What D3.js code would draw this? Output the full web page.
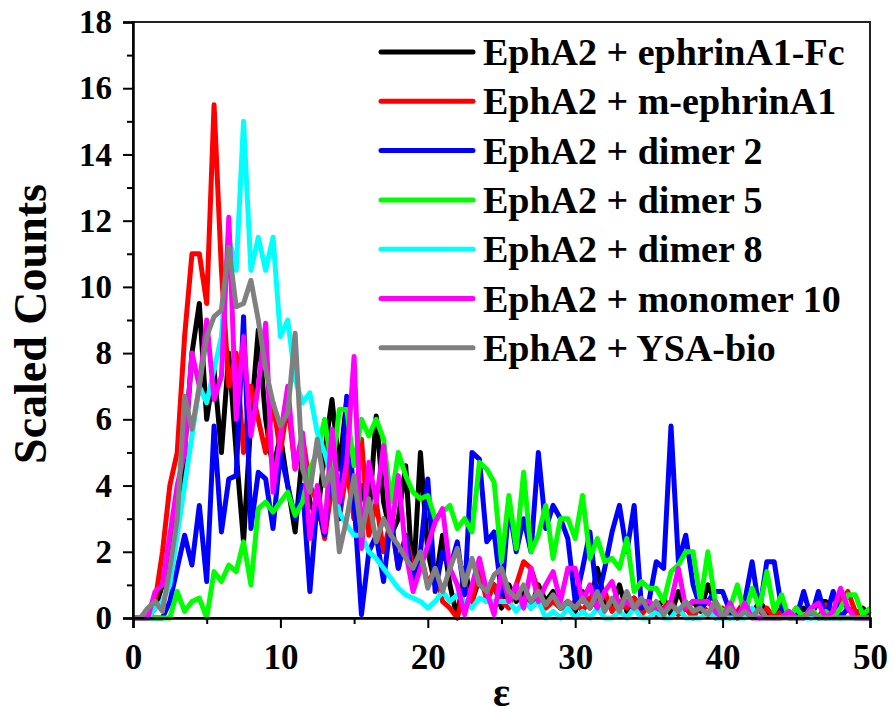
<!DOCTYPE html>
<html>
<head>
<meta charset="utf-8">
<script src="https://cdn.jsdelivr.net/npm/d3@7"></script>
<style>
  body { margin: 0; background: #fff; }
  svg text { font-family: "Liberation Serif", "Times New Roman", serif; font-weight: bold; }
</style>
</head>
<body>
<div id="chart"></div>
<script>
// bin centres, step 0.5 on epsilon
const eps = d3.range(0, 50.001, 0.5);

const seriesNames = [
    "EphA2 + ephrinA1-Fc",
    "EphA2 + m-ephrinA1",
    "EphA2 + dimer 2",
    "EphA2 + dimer 5",
    "EphA2 + dimer 8",
    "EphA2 + monomer 10",
    "EphA2 + YSA-bio"
];
const seriesColors = ["#000000", "#ff0000", "#0000ff", "#00ff00", "#00ffff", "#ff00ff", "#808080"];

const ephrinFc = [
    0,0,0,0.3,1,2,3,5,8,9.5,
    6,7.5,5,8,5,2.3,6,8.7,6,4.5,
    5.5,4,2.6,5,3.5,3,5,6.6,4.5,6.6,
    3,4,3,6.1,3.5,2.5,3,4.6,1,5,
    2,1,2.5,1,0,1.5,0.5,1.2,0.8,1,
    0.3,1,0.5,0.8,0.3,1,0.5,0.8,0.3,0.5,
    0.2,0.8,0.3,1.5,0.5,0.3,1,0.2,0.6,0.3,
    0.5,0.2,0.6,0.1,0.8,0.3,0.5,0.2,1,0.5,
    0.1,0.3,0,0.4,0.1,0.5,0.2,0,0.3,0.1,
    0,0.3,0.1,0.5,0.5,0.2,0.6,0.3,0.1,0.3,
    0.1
];
const mEphrin = [
    0,0,0,0.5,2,4,5,8.5,11,11,
    9.5,15.5,10.5,7,8,5,7,6,5,6.5,
    5,6.5,4.5,5.5,4,3.5,2.4,4,3,4.5,
    3,5.4,2.5,3.5,2,3,1.5,2.5,1.5,2,
    1,1.5,0.5,0.3,0,1,0.5,1.5,0.5,1,
    0.5,0.3,1,1.7,1.5,0.8,0.3,0.5,0.3,0.3,
    0.5,0.2,0.6,0.3,0.8,0.2,0.5,0.3,0.6,0.1,
    0.4,0.1,0.3,0.5,0.1,0.3,0,0.4,0.2,0,
    0.3,0,0.2,0.5,0.1,0,0.3,0,0.2,0,
    0.3,0,0.2,0,0.4,0.2,0.5,0.8,0.2,0,
    0
];
const dimer2 = [
    0,0,0,0,0,0.5,1.5,2.5,1.6,3.4,
    1.1,5.8,2.6,4.2,4.3,9.1,2.7,4.4,4.2,2.7,
    5,4,3,4,0.8,3.5,2.5,5,3,6.7,
    3.5,0.1,2,2.5,1.1,3,1.5,2.5,1,2,
    4.2,0.8,2,1.5,2.3,0.7,5,4.8,2.3,2.6,
    0.7,3.4,2,3,2,5,2.7,3.4,3,2.4,
    0.5,1.5,2.6,0.5,1.5,2.6,3.4,2,3.4,0.3,
    0.5,1.7,1.5,5.8,1.7,2.5,1,0.3,0.5,0.8,
    0.8,0.2,0,0.5,1.7,0.2,1.7,1.7,0.3,0,
    0,0.8,0,0.8,0,0.8,0,0.3,0,0,
    0
];
const dimer5 = [
    0,0,0,0,0,0,0.8,0.2,0.5,0.6,
    0,1.4,1.1,1.6,1.4,2.3,1,3.3,3.5,3.2,
    3.5,3.8,3.1,3.5,4.5,5,6,4.5,6.3,6.3,
    4.6,6,5.5,6,5.4,3.5,5,4.3,3.8,3.6,
    3.7,3,3.2,3.4,2.7,3,2.6,4.7,4.5,4.1,
    1.7,3.7,2.1,4.4,2,2.5,3.4,1.8,3,3,
    2.4,3.7,1.8,2.4,1.7,1.8,1.5,2.4,0.8,1.1,
    0.9,0.9,0.5,1.4,1.6,2,2,0.5,2,0.5,
    0.2,0.3,1,0.1,0.9,0.3,1.4,0.2,0.7,0,
    0.3,0,0.3,0,0.2,0,0.3,0.7,0.7,0.1,
    0.3
];
const dimer8 = [
    0,0,0,0.3,0.5,1,2.5,4,5.5,7,
    6.5,7.5,8.5,11.5,10.5,15,10.5,11.5,10.5,11.5,
    8.5,9,7.2,6.5,6.8,5.6,5,4.2,3.2,2.8,
    2.5,2.5,2,1.8,1.5,1.2,0.9,0.7,0.6,0.5,
    0.3,0.5,0.8,0.5,0.7,0.5,0.3,0.6,0.5,0.5,
    0.5,0.5,0.2,0.5,0.3,0.5,0,0.2,0,0.3,
    0,0.2,0,0.3,0,0,0.2,0,0.3,0,
    0,0.2,0,0,0.3,0,0,0,0.2,0,
    0,0,0,0,0.3,0,0,0,0,0.2,
    0,0,0,0,0,0,0,0,0,0,
    0
];
const monomer10 = [
    0,0,0,0.8,1,2.5,4,5,8,7,
    9,6.6,7.3,12.1,6,8.5,5.5,7,8.9,3.8,
    5.5,7,4.5,5.6,2.4,4,2.6,5.7,3.5,4.7,
    7.9,2.1,4.7,3.5,5.2,2.5,4.3,2,0.8,1.5,
    2.2,2.9,3.3,1.5,1,0.1,1,1.8,0.8,0.1,
    1.4,0.5,1,0.3,1.5,0.5,1,1.4,0.5,1.5,
    1.5,0.5,1,0.3,0.8,1.1,0.3,0.5,0.3,0.5,
    0.5,0.3,0.2,0.5,1.5,0.3,0.5,0.5,0.5,0.2,
    0,0.45,0,0.45,0,0,0,0,0,0.2,
    0,0,0.3,0.45,0,0.2,0.9,0.3,0,0,
    0
];
const ysaBio = [
    0,0,0.3,0.5,0.2,1.5,3,6.7,5.7,7,
    8.5,9.1,9.3,11.2,9.4,9.5,10.2,9,7.5,6.5,
    5.8,6.2,8.6,4.5,3.8,5.4,4,4.5,2,3,
    4.3,2.5,3.6,2.3,3,2.5,2.2,1.8,1.5,2,
    0.9,1.5,0.8,1.5,2.1,1,1.8,1,0.8,1.3,
    1.5,0.8,0.6,1,0.5,0.8,0.4,0.7,0.3,0.5,
    0.3,0.6,0.3,0.8,0.2,0.6,0.2,0.8,0.3,0.6,
    0.2,0.5,0.1,0.4,0.2,0.5,0.2,0.3,0.1,0.5,
    0,0.3,0,0.2,0,0.3,0,0,0,0,
    0,0,0.2,0,0,0,0,0,0,0,
    0
];

const allSeries = [ephrinFc, mEphrin, dimer2, dimer5, dimer8, monomer10, ysaBio];

const W = 895, H = 721;
const plot = { left: 133, right: 870, top: 22, bottom: 618 };

const svg = d3.select("#chart")
    .append("svg")
    .attr("width", W)
    .attr("height", H);

const x = d3.scaleLinear().domain([0, 50]).range([plot.left, plot.right]);
const y = d3.scaleLinear().domain([0, 18]).range([plot.bottom, plot.top]);

// data lines
const line = d3.line()
    .x((d, i) => x(eps[i]))
    .y(d => y(d));

allSeries.forEach((vals, k) => {
    svg.append("path")
        .datum(vals)
        .attr("fill", "none")
        .attr("stroke", seriesColors[k])
        .attr("stroke-width", 5)
        .attr("stroke-linejoin", "round")
        .attr("d", line);
});

// frame
svg.append("rect")
    .attr("x", plot.left)
    .attr("y", plot.top)
    .attr("width", plot.right - plot.left)
    .attr("height", plot.bottom - plot.top)
    .attr("fill", "none")
    .attr("stroke", "#222")
    .attr("stroke-width", 2);

// minor ticks
svg.append("g")
    .attr("transform", `translate(0,${plot.bottom})`)
    .call(d3.axisBottom(x).tickValues(d3.range(5, 50, 10)).tickSize(6).tickFormat(""))
    .call(g => g.select(".domain").remove())
    .selectAll("line").attr("stroke-width", 2);

svg.append("g")
    .attr("transform", `translate(${plot.left},0)`)
    .call(d3.axisLeft(y).tickValues(d3.range(1, 18, 2)).tickSize(6).tickFormat(""))
    .call(g => g.select(".domain").remove())
    .selectAll("line").attr("stroke-width", 2);

// major ticks + labels
const xAxis = svg.append("g")
    .attr("transform", `translate(0,${plot.bottom})`)
    .call(d3.axisBottom(x).tickValues(d3.range(0, 51, 10)).tickSize(10).tickPadding(16));
xAxis.select(".domain").attr("stroke-width", 2.5);
xAxis.selectAll("line").attr("stroke-width", 2);
xAxis.selectAll("text").style("font-size", "35px").attr("fill", "#000");

const yAxis = svg.append("g")
    .attr("transform", `translate(${plot.left},0)`)
    .call(d3.axisLeft(y).tickValues(d3.range(0, 19, 2)).tickSize(10).tickPadding(11));
yAxis.select(".domain").attr("stroke-width", 2.5);
yAxis.selectAll("line").attr("stroke-width", 2);
yAxis.selectAll("text").style("font-size", "33px").attr("fill", "#000");

// axis titles
svg.append("text")
    .attr("transform", `translate(46,${(plot.top + plot.bottom) / 2 + 4}) rotate(-90)`)
    .attr("text-anchor", "middle")
    .style("font-size", "46px")
    .text("Scaled Counts");

svg.append("text")
    .attr("x", (plot.left + plot.right) / 2)
    .attr("y", 706)
    .attr("text-anchor", "middle")
    .style("font-size", "40px")
    .text("ε");

// legend
const legend = svg.append("g").attr("transform", "translate(381,52)");
seriesNames.forEach((name, k) => {
    const row = legend.append("g").attr("transform", `translate(0,${k * 49.3})`);
    row.append("line")
        .attr("x1", 0).attr("x2", 92)
        .attr("y1", 0).attr("y2", 0)
        .attr("stroke", seriesColors[k])
        .attr("stroke-width", 5)
        .attr("stroke-linecap", "round");
    row.append("text")
        .attr("x", 102)
        .attr("y", 13)
        .style("font-size", "38px")
        .text(name);
});
</script>
</body>
</html>
